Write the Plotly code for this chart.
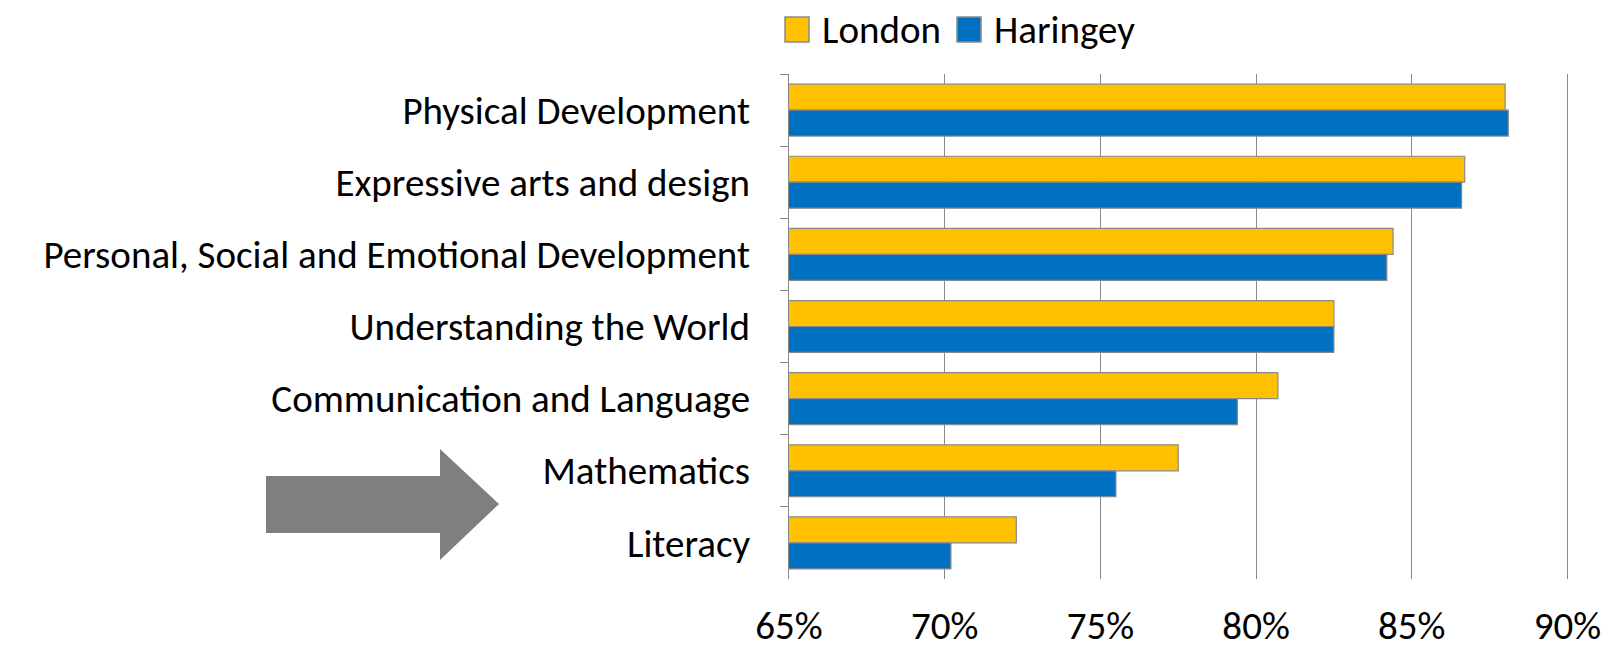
import plotly.graph_objects as go

categories = ["Physical Development", "Expressive arts and design",
              "Personal, Social and Emotional Development", "Understanding the World",
              "Communication and Language", "Mathematics", "Literacy"]
london = [88.0, 86.7, 84.4, 82.5, 80.7, 77.5, 72.3]
haringey = [88.1, 86.6, 84.2, 82.5, 79.4, 75.5, 70.2]
series_names = ["London", "Haringey"]
series_colors = ["#FFC000", "#0070C0"]
x_ticks = [65, 70, 75, 80, 85, 90]
x_ticktext = [f"{v}%" for v in x_ticks]

W, H = 1606, 648
L, R, T, B = 789, 1569, 74, 579
FONT = "Carlito, Lato"
FS = 39

def px(x):
    return (x - L) / (R - L)

def py(y):
    return (B - y) / (B - T)

fig = go.Figure()
for name, vals, col in zip(series_names, [london, haringey], series_colors):
    fig.add_trace(go.Bar(y=categories, x=vals, name=name, orientation="h",
                         marker=dict(color=col, line=dict(color="#8a8a8a", width=1.2)),
                         base=0))

fig.update_layout(
    width=W, height=H,
    margin=dict(l=L, r=W - R, t=T, b=H - B, autoexpand=False),
    paper_bgcolor="white", plot_bgcolor="white",
    barmode="group", bargap=0.28, bargroupgap=0,
    showlegend=False,
    font=dict(family=FONT, size=FS, color="#000000"),
)
fig.update_xaxes(range=[65, 90.05], tickvals=x_ticks, ticktext=x_ticktext,
                 showgrid=True, gridcolor="#8a8a8a", gridwidth=1.3, automargin=False,
                 showline=False, zeroline=False, ticks="", ticklabelstandoff=20,
                 tickfont=dict(family=FONT, size=FS))
fig.update_yaxes(autorange="reversed", categoryorder="array", categoryarray=categories,
                 tickson="boundaries", ticks="outside", ticklen=8, tickcolor="#8a8a8a",
                 tickwidth=1.3, showline=True, linecolor="#8a8a8a", linewidth=1.3,
                 showgrid=False, ticklabelstandoff=30, automargin=False,
                 tickfont=dict(family=FONT, size=FS))

# legend drawn manually
leg_items = [(785, 809, 820), (957, 981, 992)]
for (x0, x1, tx), name, col in zip(leg_items, series_names, series_colors):
    fig.add_shape(type="rect", xref="paper", yref="paper",
                  x0=px(x0), x1=px(x1), y0=py(42), y1=py(17),
                  fillcolor=col, line=dict(color="#8a8a8a", width=1.5))
    fig.add_annotation(xref="paper", yref="paper", x=px(tx), y=py(30),
                       text=name, showarrow=False, xanchor="left", yanchor="middle",
                       font=dict(family=FONT, size=FS, color="#000000"))

# block arrow
pts = [(266, 476), (440, 476), (440, 449), (499, 504), (440, 560), (440, 533), (266, 533)]
path = "M " + " L ".join(f"{px(x)},{py(y)}" for x, y in pts) + " Z"
fig.add_shape(type="path", xref="paper", yref="paper", path=path,
              fillcolor="#7f7f7f", line=dict(width=0))

fig.write_html("out.html", config={"displayModeBar": False},
               post_script="document.body.style.margin='0';document.body.style.overflow='hidden';")
